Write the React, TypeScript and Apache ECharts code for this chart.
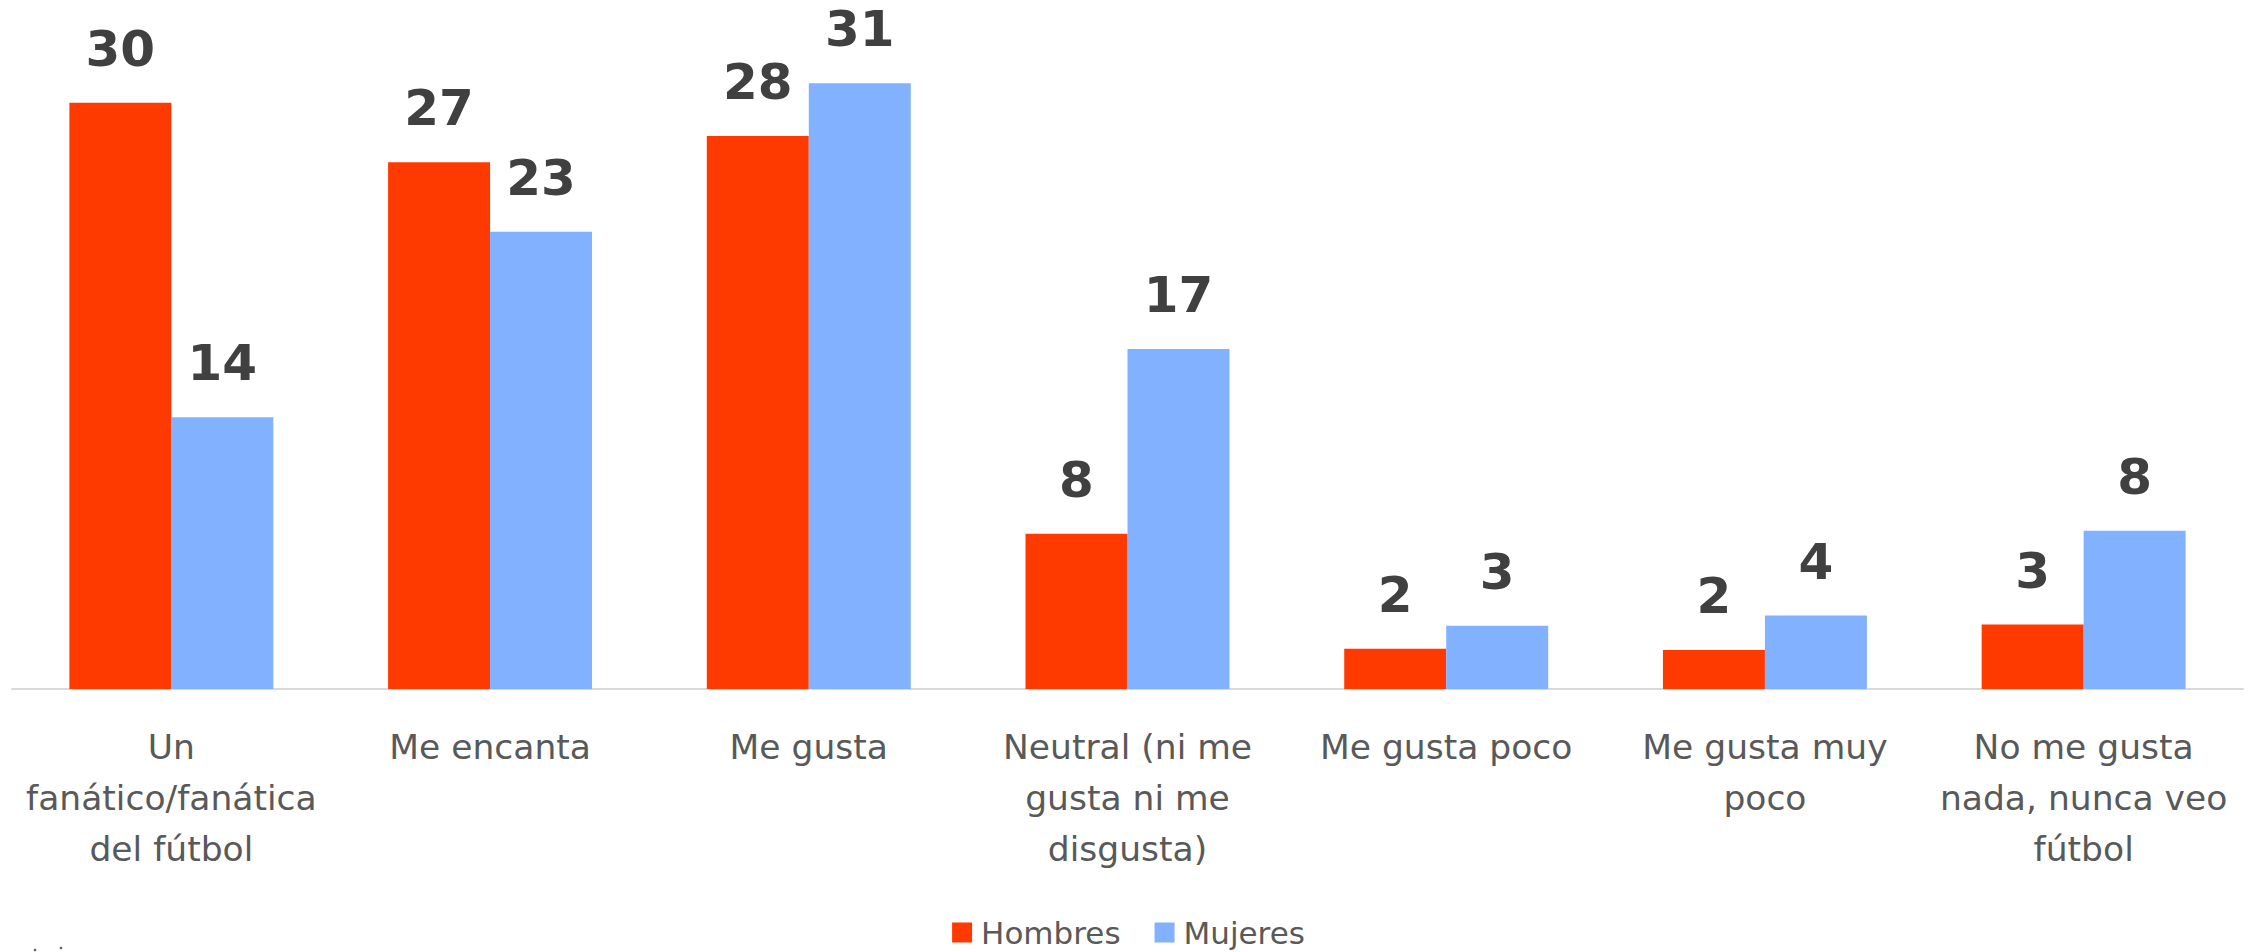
import React, { useEffect, useRef } from "react";
import * as echarts from "echarts";

const categories: string[] = [
  "Un\nfanático/fanática\ndel fútbol",
  "Me encanta",
  "Me gusta",
  "Neutral (ni me\ngusta ni me\ndisgusta)",
  "Me gusta poco",
  "Me gusta muy\npoco",
  "No me gusta\nnada, nunca veo\nfútbol",
];
const hombres: number[] = [30.0, 26.95, 28.3, 7.95, 2.06, 1.99, 3.3];
const mujeres: number[] = [13.9, 23.4, 31.0, 17.4, 3.24, 3.76, 8.1];
const seriesNames: string[] = ["Hombres", "Mujeres"];

const FONT = "'DejaVu Sans', 'Open Sans', sans-serif";

export default function App() {
  const ref = useRef<HTMLDivElement>(null);
  useEffect(() => {
    if (!ref.current) return;
    const chart = echarts.init(ref.current, undefined, { renderer: "svg" });
    const labelCfg = {
      show: true,
      position: "top" as const,
      distance: 29,
      fontFamily: FONT,
      fontWeight: "bold" as any,
      fontSize: 50,
      color: "#404040",
      formatter: (p: any) => String(Math.round(p.value)),
    };
    chart.setOption({
      animation: false,
      backgroundColor: "#ffffff",
      grid: { left: 12, right: 14, top: 5, bottom: 263, containLabel: false },
      legend: {
        data: seriesNames,
        top: 912,
        left: "center",
        icon: "rect",
        itemWidth: 20,
        itemHeight: 20,
        itemGap: 34,
        textStyle: { fontFamily: FONT, fontSize: 31, color: "#595959", padding: [0, 0, 0, 4] },
      },
      xAxis: {
        type: "category",
        data: categories,
        axisLine: { show: true, lineStyle: { color: "#d9d9d9", width: 2 } },
        axisTick: { show: false },
        axisLabel: {
          interval: 0,
          margin: 32,
          fontFamily: FONT,
          fontSize: 34.5,
          lineHeight: 51,
          color: "#595959",
          align: "center",
        },
      },
      yAxis: {
        type: "value",
        min: 0,
        max: 35,
        show: false,
        splitLine: { show: false },
      },
      series: [
        {
          name: seriesNames[0],
          type: "bar",
          data: hombres,
          barGap: "0%",
          barCategoryGap: "36%",
          itemStyle: { color: "#FF3A00" },
          label: labelCfg,
        },
        {
          name: seriesNames[1],
          type: "bar",
          data: mujeres,
          barGap: "0%",
          barCategoryGap: "36%",
          itemStyle: { color: "#82B1FF" },
          label: labelCfg,
        },
      ],
      graphic: [
        { type: "circle", shape: { cx: 35, cy: 950, r: 1.3 }, style: { fill: "#666" } },
        { type: "circle", shape: { cx: 61, cy: 948, r: 1.3 }, style: { fill: "#666" } },
      ],
    });
    return () => chart.dispose();
  }, []);
  return (
    <div
      ref={ref}
      style={{ position: "fixed", left: 0, top: 0, width: 2257, height: 952 }}
    />
  );
}
